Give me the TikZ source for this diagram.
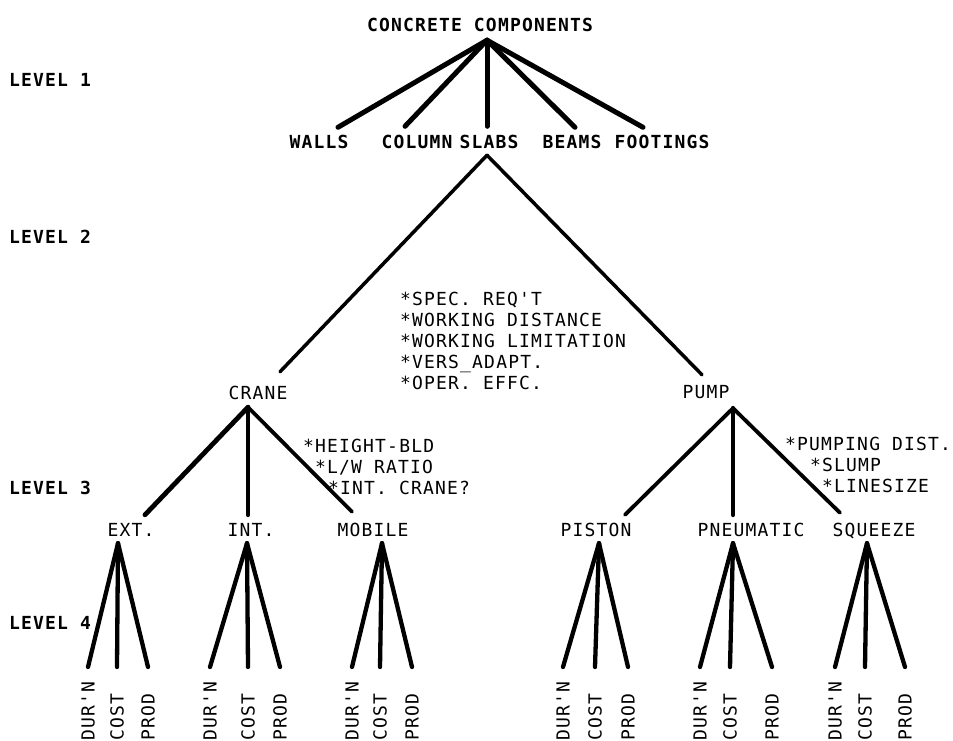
\documentclass[tikz,border=0pt]{standalone}
\usepackage{fontspec}
\setmonofont{DejaVu Sans Mono}[LetterSpace=6.5]
\begin{document}
\begin{tikzpicture}[x=1pt,y=-1pt,
    lbl/.style={font=\fontsize{18}{21}\selectfont\ttfamily, inner sep=0pt, text height=13pt, text depth=0pt},
    hd/.style={lbl, font=\fontsize{18}{21}\selectfont\ttfamily\bfseries},
    note/.style={font=\fontsize{18}{21}\selectfont\ttfamily, inner sep=0pt, align=left, anchor=north west},
    leaf/.style={lbl, rotate=90, anchor=west},
    br/.style={line width=4.3pt, line cap=round}]
  \useasboundingbox (0,0) rectangle (953,740);

  % levels
  \node[hd, anchor=west] (lv1) at (9,80) {LEVEL 1};
  \node[hd, anchor=west] (lv2) at (9,237) {LEVEL 2};
  \node[hd, anchor=west] (lv3) at (9,488) {LEVEL 3};
  \node[hd, anchor=west] (lv4) at (9,623) {LEVEL 4};

  % level 1
  \node[hd] (cc) at (480,25) {CONCRETE COMPONENTS};
  \node[hd] (walls) at (319,142) {WALLS};
  \node[hd] (column) at (417,142) {COLUMN};
  \node[hd] (slabs) at (489,142) {SLABS};
  \node[hd] (beams) at (572,142) {BEAMS};
  \node[hd] (footings) at (662,142) {FOOTINGS};
  \coordinate (cc-j) at ([shift={(7,8.5)}]cc.south);
  \draw[br, line width=5pt] (cc-j) -- ([shift={(19,-8)}]walls.north);
  \draw[br, line width=5pt] (cc-j) -- ([shift={(-12,-9)}]column.north);
  \draw[br, line width=5pt] (cc-j) -- ([shift={(-2,-9)}]slabs.north);
  \draw[br, line width=5pt] (cc-j) -- ([shift={(3,-8)}]beams.north);
  \draw[br, line width=5pt] (cc-j) -- ([shift={(-19,-8)}]footings.north);

  % level 2
  \node[lbl] (crane) at (258,393) {CRANE};
  \node[lbl] (pump) at (706,392) {PUMP};
  \coordinate (slabs-j) at ([shift={(-2,6.5)}]slabs.south);
  \draw[br, line width=3.5pt] (slabs-j) -- ([shift={(22,-14.5)}]crane.north);
  \draw[br, line width=3.5pt] (slabs-j) -- ([shift={(-4,-10.5)}]pump.north);
  \node[note] (spec) at (400,291.5) {*SPEC. REQ'T\\*WORKING DISTANCE\\*WORKING LIMITATION\\*VERS\_ADAPT.\\*OPER. EFFC.};

  % level 3
  \node[lbl] (ext) at (131,530) {EXT.};
  \node[lbl] (int) at (251,530) {INT.};
  \node[lbl] (mobile) at (373,530) {MOBILE};
  \node[lbl] (piston) at (596,530) {PISTON};
  \node[lbl] (pneu) at (751,530) {PNEUMATIC};
  \node[lbl] (squeeze) at (874,530) {SQUEEZE};
  \coordinate (crane-j) at ([shift={(-10,7.5)}]crane.south);
  \coordinate (pump-j) at ([shift={(27,9.5)}]pump.south);
  \draw[br, line width=4.8pt] (crane-j) -- ([shift={(14,-8.5)}]ext.north);
  \draw[br, line width=4.8pt] (crane-j) -- ([shift={(-3,-8.5)}]int.north);
  \draw[br, line width=3.8pt] (crane-j) -- ([shift={(-21,-11.5)}]mobile.north);
  \draw[br, line width=3.8pt] (pump-j) -- ([shift={(29,-8.5)}]piston.north);
  \draw[br, line width=4.8pt] (pump-j) -- ([shift={(-18,-8.5)}]pneu.north);
  \draw[br, line width=3.8pt] (pump-j) -- ([shift={(-34,-10.5)}]squeeze.north);
  \node[note] (crane-n) at (303,438.5) {*HEIGHT-BLD\\\hspace*{12pt}*L/W RATIO\\\hspace*{25pt}*INT. CRANE?};
  \node[note] (pump-n) at (785,436.5) {*PUMPING DIST.\\\hspace*{25pt}*SLUMP\\\hspace*{37pt}*LINESIZE};

  % level 4
  \coordinate (tips) at (0,667);
  \foreach \p/\dx/\a/\b/\c in {ext/-13/88/117/148, int/-4/210/248/280, mobile/9/352/380/412,
      piston/3/563/595/628, pneu/-18/700/730/772, squeeze/-7/835/865/905} {
    \coordinate (\p-j) at ([shift={(\dx,6.5)}]\p.south);
    \node[leaf] (\p-d) at (\a,741) {DUR'N};
    \node[leaf] (\p-c) at (\b,741) {COST};
    \node[leaf] (\p-p) at (\c,741) {PROD};
    \draw[br] (\p-j) -- (\p-d |- tips);
    \draw[br] (\p-j) -- (\p-c |- tips);
    \draw[br] (\p-j) -- (\p-p |- tips);
  }
\end{tikzpicture}
\end{document}
